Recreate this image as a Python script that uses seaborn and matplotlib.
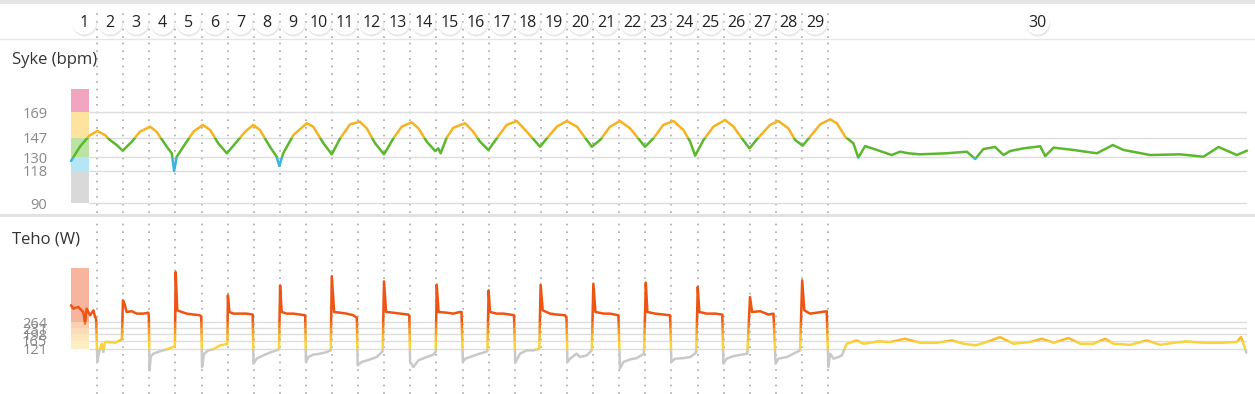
import pandas as pd
import matplotlib.pyplot as plt
import seaborn as sns
from matplotlib.patches import Rectangle
from matplotlib.lines import Line2D
from matplotlib.transforms import offset_copy

# Lap layout (minutes)
lap_bounds = [1, 2, 3, 4, 5, 6, 7, 8, 9, 10, 11, 12, 13, 14, 15, 16, 17, 18, 19, 20,
              21, 22, 23, 24, 25, 26, 27, 28, 29]
session_end = 45.05
lap_labels = ["1", "2", "3", "4", "5", "6", "7", "8", "9", "10", "11", "12", "13", "14", "15",
              "16", "17", "18", "19", "20", "21", "22", "23", "24", "25", "26", "27", "28", "29", "30"]

# Heart rate (bpm)
hr_time = [0.00, 0.34, 0.70, 1.01, 1.30, 1.49, 1.75, 1.98,
           2.33, 2.64, 3.03, 3.28, 3.67, 3.86, 3.95,
           4.05, 4.43, 4.69, 5.05, 5.33, 5.64, 5.97,
           6.35, 6.67, 6.98, 7.24, 7.62, 7.88, 7.98,
           8.13, 8.52, 9.03, 9.28, 9.67, 9.99,
           10.31, 10.69, 11.07, 11.33, 11.65, 11.99,
           12.35, 12.67, 13.05, 13.31, 13.63, 13.95, 14.07, 14.16,
           14.39, 14.65, 15.10, 15.41, 15.67, 15.99,
           16.31, 16.69, 17.08, 17.46, 17.97,
           18.23, 18.61, 18.99, 19.38, 19.95,
           20.27, 20.65, 21.03, 21.42, 21.99,
           22.31, 22.69, 23.08, 23.46, 23.72, 23.91,
           24.23, 24.61, 25.06, 25.38, 25.70, 25.99,
           26.33, 26.78, 27.10, 27.48, 27.74, 28.03,
           28.31, 28.70, 29.08, 29.34, 29.66, 29.97, 30.16,
           30.42, 30.87, 31.44, 31.76, 32.08, 32.53, 33.55, 34.32, 34.64, 34.95,
           35.40, 35.72, 35.98, 36.49, 37.13, 37.32, 37.64, 38.40, 39.30, 39.91,
           40.32, 41.34, 42.49, 43.38, 43.96, 44.66, 45.05]
hr_bpm = [126.6, 139.0, 148.6, 152.7, 149.2, 144.9, 140.5, 135.6,
          143.4, 152.1, 156.5, 152.0, 139.0, 133.3, 117.9,
          130.3, 143.4, 152.1, 158.0, 153.6, 142.0, 133.3,
          143.4, 152.1, 158.0, 153.6, 139.0, 130.3, 122.2,
          133.3, 149.2, 159.4, 156.5, 142.0, 132.4,
          146.3, 158.5, 160.8, 155.0, 142.0, 132.4,
          146.3, 156.5, 160.3, 155.0, 143.4, 135.3, 137.6, 133.3,
          146.9, 155.6, 159.4, 152.1, 143.4, 136.2,
          146.3, 158.0, 161.4, 152.1, 139.0,
          146.3, 156.5, 161.4, 156.5, 139.0,
          144.9, 156.5, 161.4, 155.0, 139.0,
          146.3, 158.0, 161.4, 153.6, 143.4, 131.2,
          144.9, 156.5, 162.3, 156.5, 146.3, 137.6,
          146.9, 158.0, 161.4, 155.0, 144.9, 139.9,
          147.7, 158.5, 162.9, 159.4, 147.7, 142.0, 129.5,
          139.6, 136.2, 131.8, 134.7, 133.3, 132.4, 133.3, 134.7, 128.3, 137.0,
          138.8, 131.8, 135.3, 137.6, 139.4, 130.9, 138.2, 136.2, 133.3, 140.5,
          136.2, 131.8, 132.4, 130.3, 138.8, 131.8, 135.6]
hr_zones = [90, 118, 130, 147, 169, 189]
hr_zone_fill = ["#d9d9da", "#b5e6f5", "#bbe3a3", "#fde39e", "#f1a5c1"]
hr_line_cols = ["#3db3e0", "#3db3e0", "#5bb82d", "#f6b221", "#ee7fa8"]

# Power (W)
pw_time = [0.00, 0.09, 0.28, 0.47, 0.54, 0.60, 0.73, 0.86, 0.92, 0.96,
           1.01, 1.09, 1.17, 1.24, 1.30, 1.49, 1.69, 1.88, 1.95,
           1.99, 2.07, 2.13, 2.33, 2.52, 2.77, 2.96, 2.98,
           3.01, 3.05, 3.15, 3.41, 3.67, 3.92, 3.98,
           4.01, 4.07, 4.24, 4.43, 4.69, 4.94, 4.99,
           5.02, 5.10, 5.26, 5.45, 5.71, 5.90, 5.99,
           6.01, 6.07, 6.22, 6.48, 6.73, 6.96,
           6.99, 7.11, 7.37, 7.62, 7.88, 7.97,
           8.01, 8.07, 8.26, 8.52, 8.77, 8.97,
           9.00, 9.09, 9.28, 9.54, 9.80, 9.95,
           9.99, 10.08, 10.31, 10.56, 10.82, 10.95,
           10.98, 11.14, 11.46, 11.71, 11.94,
           11.99, 12.07, 12.35, 12.61, 12.92, 12.96,
           12.99, 13.12, 13.31, 13.63, 13.88, 13.97,
           14.01, 14.08, 14.39, 14.65, 14.90, 14.96,
           15.01, 15.10, 15.29, 15.54, 15.80, 15.95,
           16.00, 16.05, 16.31, 16.56, 16.82, 16.97,
           17.02, 17.20, 17.46, 17.71, 17.94,
           17.99, 18.07, 18.35, 18.61, 18.93, 18.98,
           19.02, 19.12, 19.37, 19.50, 19.76, 19.95,
           20.01, 20.09, 20.40, 20.65, 20.97,
           21.03, 21.16, 21.42, 21.67, 21.95,
           22.02, 22.08, 22.38, 22.69, 22.95,
           23.00, 23.14, 23.46, 23.72, 23.95,
           24.01, 24.07, 24.35, 24.67, 24.95,
           24.99, 25.12, 25.38, 25.70, 25.91,
           26.01, 26.09, 26.40, 26.72, 26.91,
           26.99, 27.10, 27.42, 27.68, 27.93,
           28.01, 28.09, 28.31, 28.57, 28.95,
           29.01, 29.08, 29.21, 29.40, 29.53, 29.72, 29.91, 30.10, 30.36, 30.93,
           31.38, 31.95, 32.53, 33.17, 33.74, 34.19, 34.64, 35.08, 35.59, 36.10,
           36.74, 37.19, 37.64, 38.21, 38.66, 39.17, 39.62, 39.94, 40.57, 41.21,
           41.72, 42.23, 42.75, 43.38, 44.02, 44.66, 44.82, 44.92, 45.02]
pw_watts = [356, 338, 347, 320, 257, 338, 302, 329, 293, 284,
            49, 112, 148, 103, 157, 157, 153, 166, 175,
            383, 356, 320, 324, 311, 311, 316, 302,
            4, 76, 94, 107, 118, 130, 139,
            536, 329, 320, 311, 306, 302, 293,
            22, 94, 112, 118, 139, 144, 148,
            410, 320, 311, 311, 311, 306,
            40, 67, 85, 100, 112, 121,
            464, 320, 311, 311, 306, 302,
            49, 76, 89, 94, 103, 112,
            514, 320, 316, 311, 302, 288,
            31, 49, 63, 76, 107,
            486, 320, 316, 311, 306, 300,
            49, 22, 58, 76, 89, 103,
            468, 320, 316, 311, 320, 320,
            49, 67, 76, 89, 100, 107,
            437, 320, 311, 311, 306, 302,
            45, 94, 112, 112, 121,
            468, 329, 311, 306, 302, 288,
            49, 67, 94, 76, 85, 112,
            473, 320, 311, 311, 302,
            13, 49, 63, 70, 94,
            479, 320, 311, 306, 302,
            49, 67, 70, 76, 100,
            455, 320, 311, 311, 306,
            40, 67, 81, 89, 94,
            401, 320, 324, 306, 311,
            40, 67, 76, 94, 112,
            491, 329, 311, 316, 324,
            22, 94, 67, 76, 85, 148, 157, 166, 148, 160,
            157, 175, 153, 153, 166, 148, 139, 157, 184, 148,
            157, 175, 153, 179, 148, 148, 175, 148, 142, 166,
            142, 153, 160, 153, 153, 157, 184, 148, 100]
pw_zones = [0, 121, 165, 198, 231, 264, 558]
pw_zone_fill = [None, "#fdeec4", "#fde6bd", "#fcdbb8", "#fbcfb3", "#f8b59d"]
pw_line_cols = ["#c9c9c9", "#f7d43a", "#f8bb2e", "#f69a24", "#f27a1c", "#ee5412"]

sns.set_style("white")
plt.rcParams["font.family"] = ["Open Sans", "DejaVu Sans"]

W, H = 1255, 394
fig = plt.figure(figsize=(W / 100, H / 100), dpi=100)


def fy(px):
    return 1 - px / H


left, width = 71 / W, 1176 / W
ax_top = fig.add_axes([left, fy(38), width, 29 / H])
ax_hr = fig.add_axes([left, fy(213), width, 175 / H])
ax_pw = fig.add_axes([left, fy(394), width, 176 / H])

ax_top.set_ylim(0, 1)
for ax in (ax_top, ax_hr, ax_pw):
    ax.set_xlim(0, session_end)
    ax.set_xticks([])
    sns.despine(ax=ax, left=True, bottom=True)
    for b in lap_bounds:
        ax.axvline(b, color="#a8a8a8", lw=1.2, ls=(0, (1, 3.6)), zorder=1)
ax_top.set_yticks([])

# lap markers
mids = [(a + b) / 2 for a, b in zip([0] + lap_bounds, lap_bounds + [session_end])]
shadow = offset_copy(ax_top.transData, fig=fig, x=0.6, y=-1.8, units="dots")
ax_top.scatter(mids, [0.534] * len(mids), s=310, color="#d9d9d9", alpha=0.6,
               edgecolors="none", transform=shadow, zorder=2, clip_on=False)
ax_top.scatter(mids, [0.534] * len(mids), s=300, color="white",
               edgecolors="none", zorder=3, clip_on=False)
for m, lab in zip(mids, lap_labels):
    ax_top.text(m, 0.534, lab, ha="center", va="center", fontsize=11.5,
                color="#222222", zorder=4)


def zoned_panel(ax, df, ycol, zones, fills, line_cols, ylims, bar_w):
    ax.set_ylim(*ylims)
    for lo, hi, c in zip(zones[:-1], zones[1:], fills):
        if c:
            ax.bar(0, hi - lo, bottom=lo, width=bar_w, align="edge", color=c,
                   linewidth=0, zorder=2)
    ticks = zones[1:-1] if zones[0] == 0 else zones[:-1]
    ax.hlines(ticks, bar_w, session_end, color="#dddddd", lw=1, zorder=1)
    ax.set_yticks(ticks)
    ax.set_yticklabels([str(t) for t in ticks])
    ax.tick_params(axis="y", length=0, pad=17, labelsize=10.5, labelcolor="#888888")
    edges = [ylims[0]] + zones[1:-1] + [ylims[1]]
    for lo, hi, c in zip(edges[:-1], edges[1:], line_cols):
        sns.lineplot(data=df, x="t", y=ycol, ax=ax, color=c, linewidth=1.8,
                     estimator=None, zorder=3)
        clip = Rectangle((-1, lo), session_end + 2, hi - lo, transform=ax.transData)
        ax.lines[-1].set_clip_path(clip)
    ax.set_xlabel("")
    ax.set_ylabel("")
    ax.set_ylim(*ylims)
    ax.set_xlim(0, session_end)


hr_df = pd.DataFrame({"t": hr_time, "bpm": hr_bpm})
pw_df = pd.DataFrame({"t": pw_time, "w": pw_watts})
zoned_panel(ax_hr, hr_df, "bpm", hr_zones, hr_zone_fill, hr_line_cols,
            (81.3, 233.7), 0.69)
zoned_panel(ax_pw, pw_df, "w", pw_zones, pw_zone_fill, pw_line_cols,
            (-124.4, 829.0), 0.69)

fig.text(12 / W, fy(60), "Syke (bpm)", fontsize=12, color="#333333", va="center")
fig.text(12 / W, fy(239), "Teho (W)", fontsize=12, color="#333333", va="center")

for ypx, lw, c in [(1.5, 3, "#e4e4e4"), (38.5, 1, "#e6e6e6"), (215.5, 2.2, "#e2e2e2")]:
    fig.add_artist(Line2D([0, 1], [fy(ypx), fy(ypx)], transform=fig.transFigure,
                          color=c, lw=lw))

fig.savefig("out.png", dpi=100)
